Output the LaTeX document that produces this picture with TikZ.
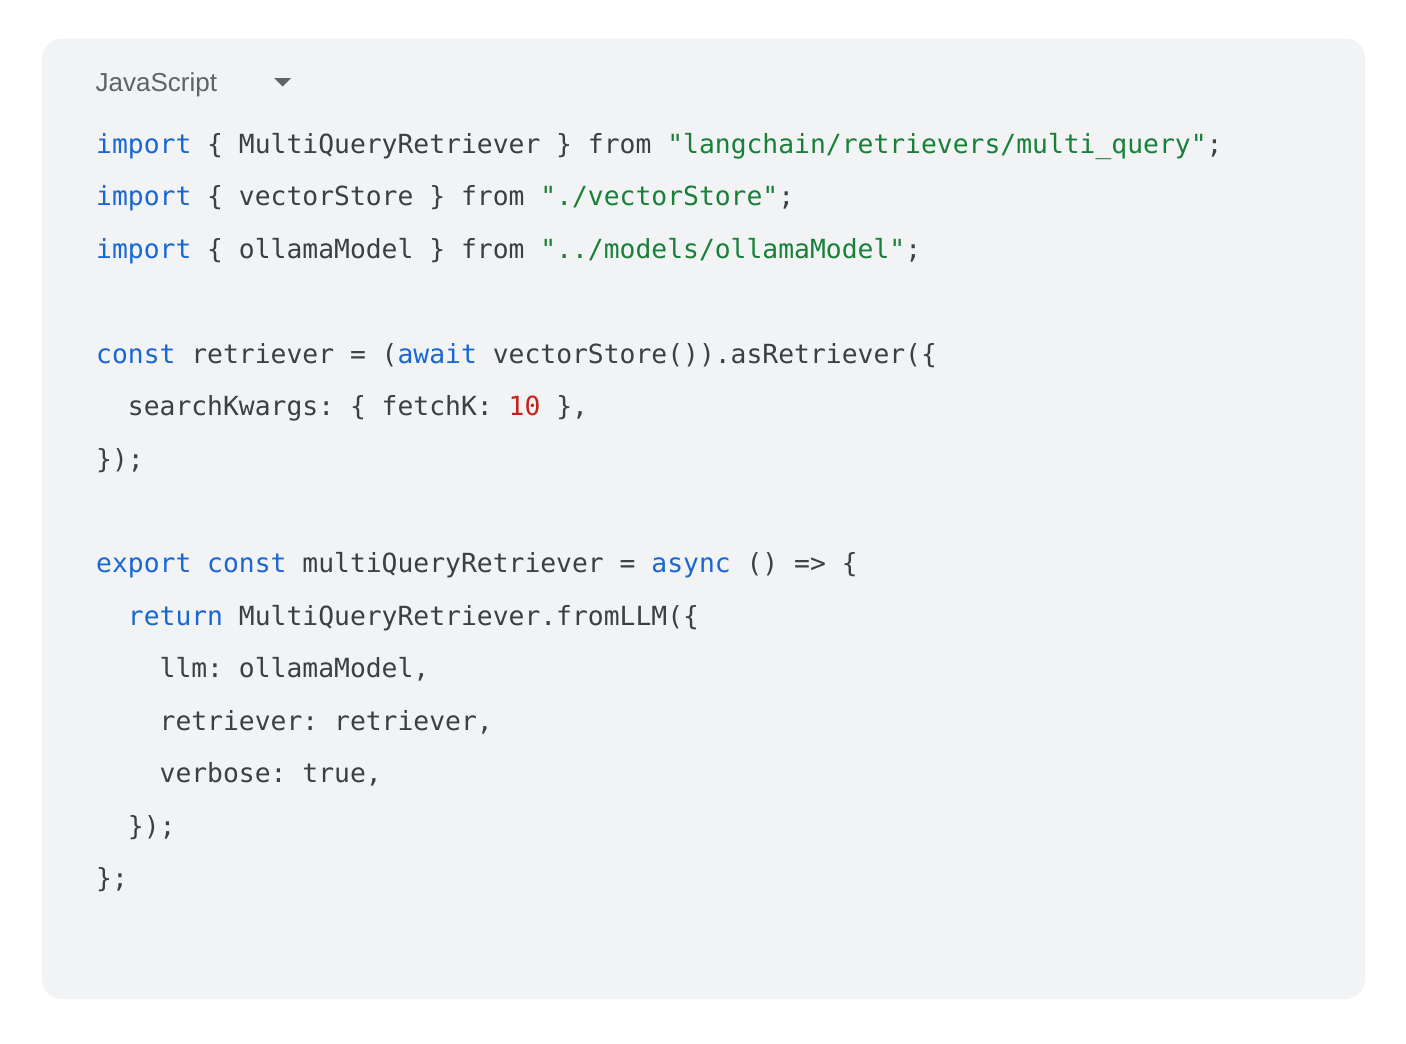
\documentclass[tikz,border=0pt]{standalone}
\usepackage{fontspec}
\setmainfont{Liberation Sans}
\setmonofont{DejaVu Sans Mono}
\definecolor{panelbg}{HTML}{F1F3F4}
\definecolor{codegray}{HTML}{3C4043}
\definecolor{kwblue}{HTML}{1967D2}
\definecolor{strgreen}{HTML}{188038}
\definecolor{numred}{HTML}{C5221F}
\definecolor{headgray}{HTML}{5F6368}
\newcommand\codefont{\ttfamily\fontsize{26.35}{30}\selectfont}
\newcommand\jskw[1]{\textcolor{kwblue}{#1}}
\newcommand\jsstr[1]{\textcolor{strgreen}{#1}}
\newcommand\jsnum[1]{\textcolor{numred}{#1}}
\begin{document}
\begin{tikzpicture}[x=1pt,y=-1pt,
  code/.style={anchor=base west, inner sep=0pt, font=\codefont, text=codegray},
  header/.style={anchor=base west, inner sep=0pt, font=\fontsize{26}{30}\selectfont, text=headgray}]
\useasboundingbox (0,0) rectangle (1406,1044);
\fill[white] (0,0) rectangle (1406,1044);
\fill[panelbg, rounded corners=20pt] (42,38.5) rectangle (1365,999);
\node[header] (lang) at (95.5,91) {JavaScript};
\fill[headgray] (274,78) -- (291,78) -- (282.5,86.5) -- cycle;
\node[code] (l1) at (96,153.5) {\jskw{import} \{ MultiQueryRetriever \} from \jsstr{"langchain/retrievers/multi\_query"};};
\node[code] (l2) at (96,205.9) {\jskw{import} \{ vectorStore \} from \jsstr{"./vectorStore"};};
\node[code] (l3) at (96,258.4) {\jskw{import} \{ ollamaModel \} from \jsstr{"../models/ollamaModel"};};
\node[code] (l5) at (96,363.2) {\jskw{const} retriever = (\jskw{await} vectorStore()).asRetriever(\{};
\node[code] (l6) at (96,415.7) {~~searchKwargs: \{ fetchK: \jsnum{10} \},};
\node[code] (l7) at (96,468.1) {\});};
\node[code] (l9) at (96,572.9) {\jskw{export} \jskw{const} multiQueryRetriever = \jskw{async} () => \{};
\node[code] (l10) at (96,625.4) {~~\jskw{return} MultiQueryRetriever.fromLLM(\{};
\node[code] (l11) at (96,677.8) {~~~~llm: ollamaModel,};
\node[code] (l12) at (96,730.2) {~~~~retriever: retriever,};
\node[code] (l13) at (96,782.6) {~~~~verbose: true,};
\node[code] (l14) at (96,835.1) {~~\});};
\node[code] (l15) at (96,887.5) {\};};
\end{tikzpicture}
\end{document}
